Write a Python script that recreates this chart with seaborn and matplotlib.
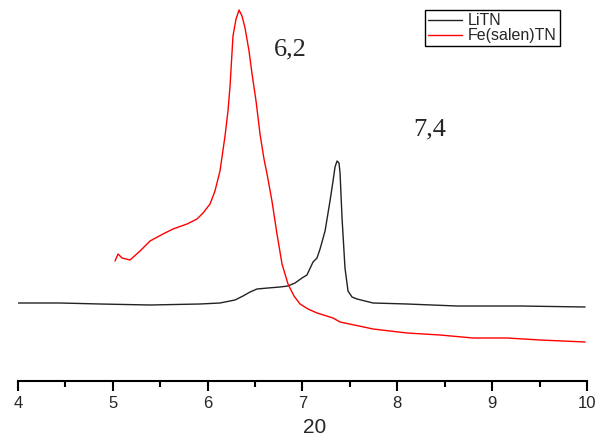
import matplotlib
matplotlib.use("Agg")
import matplotlib.pyplot as plt
import seaborn as sns
import pandas as pd
from matplotlib.ticker import MultipleLocator

# LiTN (black)
litn_x = [4.0, 4.443, 4.865, 5.392, 5.919, 6.130, 6.288, 6.373, 6.447, 6.520, 6.636, 6.763,
          6.847, 6.921, 6.995, 7.047, 7.111, 7.153, 7.185, 7.238, 7.290, 7.322, 7.343, 7.364,
          7.385, 7.396, 7.417, 7.448, 7.480, 7.522, 7.575, 7.744, 8.102, 8.629, 9.294, 9.980]
litn_y = [78, 78, 77, 76, 77, 78, 81, 85, 89, 92, 93, 94,
          95, 98, 103, 106, 119, 123, 132, 150, 180, 200, 214, 220,
          218, 208, 163, 113, 90, 84, 82, 78, 77, 75, 75, 74]

# Fe(salen)TN (red)
fe_x = [5.023, 5.055, 5.097, 5.181, 5.287, 5.392, 5.529, 5.634, 5.782, 5.888, 5.951, 6.025,
        6.077, 6.130, 6.183, 6.214, 6.236, 6.267, 6.299, 6.331, 6.362, 6.394, 6.436, 6.468,
        6.510, 6.552, 6.594, 6.626, 6.678, 6.731, 6.784, 6.847, 6.910, 6.974, 7.058, 7.153,
        7.322, 7.396, 7.744, 8.102, 8.450, 8.798, 9.157, 9.505, 9.980]
fe_y = [120, 127, 123, 121, 130, 140, 147, 152, 157, 162, 168, 177,
        190, 210, 245, 270, 295, 345, 362, 371, 365, 353, 330, 307,
        280, 247, 222, 207, 180, 147, 117, 97, 85, 77, 72, 68,
        63, 59, 52, 48, 46, 43, 43, 41, 39]

labels = ["6,2", "7,4"]
label_x = [6.87, 8.345]
label_y = [332, 252]

sns.set_style("white")
plt.rcParams['font.family'] = ['Liberation Sans', 'DejaVu Sans']

fig = plt.figure(figsize=(5.97, 4.44), dpi=100)
ax = fig.add_axes([18/597, (444-381)/444, 569/597, 381/444])

df1 = pd.DataFrame({"x": litn_x, "y": litn_y})
df2 = pd.DataFrame({"x": fe_x, "y": fe_y})
sns.lineplot(data=df1, x="x", y="y", ax=ax, color="#222222", lw=1.0, label="LiTN", sort=False)
sns.lineplot(data=df2, x="x", y="y", ax=ax, color="red", lw=1.0, label="Fe(salen)TN", sort=False)

ax.set_xlim(4, 10)
ax.set_ylim(0, 381)
for s in ["left", "top", "right"]:
    ax.spines[s].set_visible(False)
ax.spines["bottom"].set_color("black")
ax.spines["bottom"].set_linewidth(1.5)
ax.set_yticks([])
ax.set_ylabel("")
ax.xaxis.set_major_locator(MultipleLocator(1))
ax.xaxis.set_minor_locator(MultipleLocator(0.5))
ax.tick_params(axis="x", which="major", direction="out", length=7, width=1.5,
               bottom=True, labelsize=12, color="black", pad=4)
ax.tick_params(axis="x", which="minor", direction="out", length=4, width=1.5,
               bottom=True, color="black")
ax.set_xlabel("20", fontsize=15)
ax.xaxis.set_label_coords((315 - 18) / 569, -(437 - 381) / 381)
ax.xaxis.label.set_va("bottom")

for t, lx, ly in zip(labels, label_x, label_y):
    ax.text(lx, ly, t, fontsize=19, family="Liberation Serif", ha="center", va="center")

leg = ax.legend(loc="upper right", bbox_to_anchor=((560 - 18) / 569, 1.0 - 10 / 381),
                bbox_transform=ax.transAxes,
                fontsize=11.5, frameon=True, fancybox=False, handlelength=2.1,
                borderpad=0.2, labelspacing=0.0, handletextpad=0.4, borderaxespad=0)
leg.get_frame().set_edgecolor("black")
leg.get_frame().set_linewidth(1.0)
leg.get_frame().set_alpha(1)

fig.savefig("out.png", dpi=100)
